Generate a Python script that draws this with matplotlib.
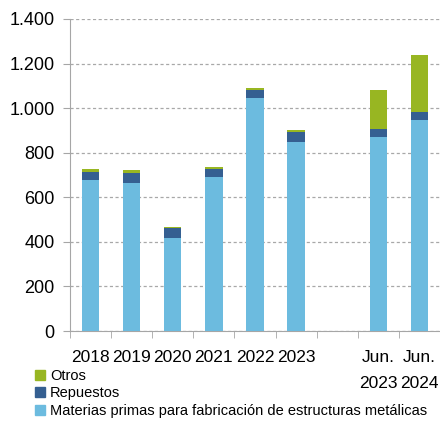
import numpy as np
import matplotlib
matplotlib.use('Agg')
import matplotlib.pyplot as plt
from matplotlib.patches import Patch

plt.rcParams['font.family'] = ['Liberation Sans', 'DejaVu Sans']

# periods shown on the x axis (an empty slot separates years from June figures)
categories = ['2018', '2019', '2020', '2021', '2022', '2023', 'Jun.\n2023', 'Jun.\n2024']
materias = [678, 666, 417, 690, 1044, 847, 871, 947]    # materias primas
repuestos = [37, 45, 45, 39, 38, 45, 34, 36]           # repuestos
otros = [12, 11, 5, 7, 10, 9, 176, 255]                # otros

c_mat = '#6CBBDF'
c_rep = '#355F91'
c_otr = '#98B622'

fig = plt.figure(figsize=(4.4, 4.21), dpi=100)
ax = fig.add_axes([70/440, 90/421, 370/440, 312/421])

x = np.array([0, 1, 2, 3, 4, 5, 7, 8])
mat = np.array(materias)
rep = np.array(repuestos)
otr = np.array(otros)
w = 0.42
ax.bar(x, mat, w, color=c_mat, zorder=3)
ax.bar(x, rep, w, bottom=mat, color=c_rep, zorder=3)
ax.bar(x, otr, w, bottom=mat + rep, color=c_otr, zorder=3)

ax.set_xlim(-0.5, 8.5)
ax.set_ylim(0, 1400)
ax.set_yticks(np.arange(0, 1401, 200))
ax.set_yticklabels(['{:,}'.format(v).replace(',', '.') for v in range(0, 1401, 200)],
                   fontsize=13)
ax.yaxis.grid(True, linestyle=(0, (2.5, 2)), color='#A8A8A8', linewidth=0.9, zorder=0)

ax.set_xticks(x)
ax.set_xticklabels(categories, fontsize=12.5, linespacing=1.85)
ax.set_xticks(np.arange(-0.5, 9, 1), minor=True)
ax.tick_params(axis='x', which='major', length=0, pad=14)
ax.tick_params(axis='x', which='minor', length=5, color='#A6A6A6')
ax.tick_params(axis='y', length=5, color='#A6A6A6', pad=6)

for s in ['top', 'right']:
    ax.spines[s].set_visible(False)
for s in ['left', 'bottom']:
    ax.spines[s].set_color('#A6A6A6')

handles = [Patch(color=c_otr, label='Otros'),
           Patch(color=c_rep, label='Repuestos'),
           Patch(color=c_mat, label='Materias primas para fabricación de estructuras metálicas')]
fig.legend(handles=handles, loc='lower left', bbox_to_anchor=(32/440, 0.0),
           frameon=False, fontsize=10.5, handlelength=0.7, handleheight=0.7,
           handletextpad=0.35, labelspacing=0.25, borderaxespad=0.0,
           borderpad=0.2)

fig.savefig('out.png', dpi=100)
